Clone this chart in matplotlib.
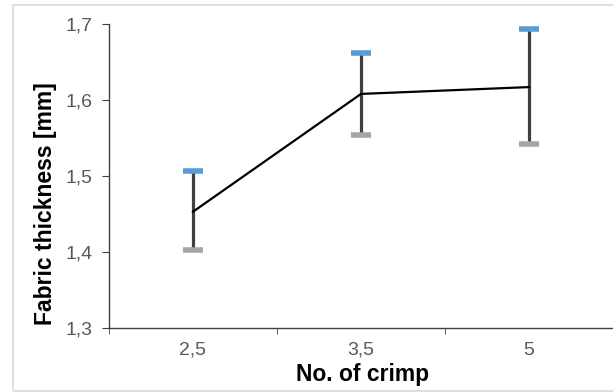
import numpy as np
import matplotlib.pyplot as plt
from matplotlib.patches import Rectangle

plt.rcParams['font.family'] = ['Liberation Sans', 'DejaVu Sans']

# datos
crimp = ['2,5', '3,5', '5']
espesor = [1.453, 1.608, 1.617]
sup = [1.507, 1.662, 1.693]
inf = [1.403, 1.554, 1.542]

x = np.arange(len(crimp))

fig = plt.figure(figsize=(6.13, 3.92), dpi=100)
# marco gris del grafico
fig.patches.append(Rectangle((13 / 613, 1 - 391 / 392), 1.0, 386 / 392,
                             transform=fig.transFigure, fill=False,
                             edgecolor='#D9D9D9', linewidth=1.2))

ax = fig.add_axes([109 / 613, 1 - 328 / 392, 504 / 613, 304 / 392])

# barras de error
ax.vlines(x, inf, sup, color='#404040', linewidth=2.3, zorder=2)
ax.plot(x, sup, linestyle='none', marker='_', markersize=15, mew=4,
        color='#5B9BD5', zorder=3)
ax.plot(x, inf, linestyle='none', marker='_', markersize=15, mew=4,
        color='#A5A5A5', zorder=3)
ax.plot(x, espesor, color='black', linewidth=1.6, zorder=4)

ax.set_xlim(-0.5, 2.5)
ax.set_ylim(1.3, 1.7)
ax.set_xticks(x)
ax.set_xticklabels(crimp)
ax.set_xticks([-0.5, 0.5, 1.5, 2.5], minor=True)
ax.set_yticks([1.3, 1.4, 1.5, 1.6, 1.7])
ax.set_yticklabels(['1,3', '1,4', '1,5', '1,6', '1,7'])
ax.tick_params(axis='x', which='major', length=0, labelsize=14, pad=10,
               colors='#404040', labelcolor='#595959')
ax.tick_params(axis='x', which='minor', length=4, color='#404040')
ax.tick_params(axis='y', length=5, labelsize=14, color='#404040',
               labelcolor='#595959', pad=7)

for lado in ['top', 'right']:
    ax.spines[lado].set_visible(False)
for lado in ['left', 'bottom']:
    ax.spines[lado].set_color('#404040')
    ax.spines[lado].set_linewidth(1)

ax.set_xlabel('No. of crimp', fontsize=16.5, fontweight='bold')
ax.set_ylabel('Fabric thickness [mm]', fontsize=16.5, fontweight='bold')
ax.xaxis.set_label_coords(0.504, -0.115)
ax.yaxis.set_label_coords(-0.103, 0.408)

fig.savefig('out.png', dpi=100)
